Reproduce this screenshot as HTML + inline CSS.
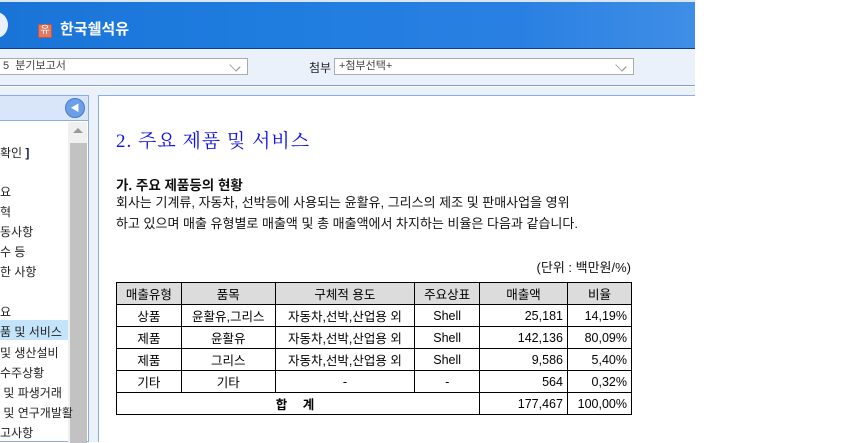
<!DOCTYPE html>
<html><head><meta charset="utf-8"><style>
*{margin:0;padding:0;box-sizing:border-box}
body{width:841px;height:442px;background:#fff;position:relative;overflow:hidden;font-family:"Liberation Sans","Noto Sans CJK KR","NanumGothic",sans-serif;}
.abs{position:absolute}
#hdr{left:0;top:2px;width:695px;height:47px;background:linear-gradient(90deg,#1a74d8 0%,#1f7de0 40%,#2a80e2 75%,#3f8ee6 100%);border-bottom:1px solid #0d3f8a}
#bar{left:0;top:49px;width:695px;height:37px;background:#ebf1fb;border-bottom:1px solid #7f9fd0}
.sel{background:#fff;border:1px solid #aaa;height:17px;font-size:11px;color:#444;line-height:15px;padding-left:4px}
.chev{position:absolute;right:8px;top:3px;width:8px;height:8px;border-right:1px solid #999;border-bottom:1px solid #999;transform:rotate(45deg) scale(1.2,0.8)}
.nav{font-size:12px;color:#222;left:0;white-space:nowrap}
table{border-collapse:collapse;font-size:12.5px;color:#000}
td{border:1px solid #000;height:22px;text-align:center;padding:0 4px}
td.r{text-align:right}
th{border:1px solid #000;height:22px;background:#dcdcdc;font-weight:normal}
</style></head><body>
<div class="abs" style="left:0;top:0;width:695px;height:2px;background:#dbe6f5"></div>
<div id="hdr" class="abs">
 <div class="abs" style="left:-16px;top:10px;width:24px;height:26px;border-radius:50%;background:#e8f1fc"></div>
 <div class="abs" style="left:38px;top:22px;width:14px;height:14px;background:#e07a63;border:1px solid #b55;color:#fff;font-size:10px;line-height:12px;text-align:center">유</div>
 <div class="abs" style="left:60px;top:16px;color:#fff;font-size:15px;font-weight:bold">한국쉘석유</div>
</div>
<div id="bar" class="abs">
 <div class="abs sel" style="left:-2px;top:9px;width:250px">5 &nbsp;분기보고서<span class="chev"></span></div>
 <div class="abs" style="left:309px;top:10px;font-size:12px;color:#222">첨부</div>
 <div class="abs sel" style="left:334px;top:9px;width:300px">+첨부선택+<span class="chev"></span></div>
</div>
<div class="abs" style="left:0;top:87px;width:695px;height:355px;background:#ebf1fb"></div>
<div class="abs" style="left:-2px;top:95px;width:91px;height:347px;background:#fff;border:1px solid #8aaee0">
 <div class="abs" style="left:0;top:0;width:89px;height:25px;background:#d9e6f9;border-bottom:1px solid #8aaee0"></div>
 <div class="abs" style="left:66px;top:2px;width:20px;height:20px;border-radius:50%;background:#6d9ee8;border:1px solid #4a79c4;color:#fff;font-size:9px;line-height:18px;text-align:center">◀</div>
 <div class="abs" style="left:69px;top:26px;width:19px;height:321px;background:#f0f0f0">
  <div class="abs" style="left:5px;top:6px;width:0;height:0;border-left:5px solid transparent;border-right:5px solid transparent;border-bottom:5px solid #999"></div>
  <div class="abs" style="left:2px;top:21px;width:17px;height:300px;background:#c2c2c2"></div>
 </div>
</div>
<div class="abs" style="left:0;top:320px;width:68px;height:20px;background:#c3e4fb"></div>
<div class="abs nav" style="top:144px">확인 <b style="color:#124">]</b></div>
<div class="abs nav" style="top:183px">요</div>
<div class="abs nav" style="top:203px">혁</div>
<div class="abs nav" style="top:223px">동사항</div>
<div class="abs nav" style="top:243px">수 등</div>
<div class="abs nav" style="top:263px">한 사항</div>
<div class="abs nav" style="top:303px">요</div>
<div class="abs nav" style="top:323px">품 및 서비스</div>
<div class="abs nav" style="top:344px">및 생산설비</div>
<div class="abs nav" style="top:364px">수주상황</div>
<div class="abs nav" style="top:384px">&nbsp;및 파생거래</div>
<div class="abs nav" style="top:404px">&nbsp;및 연구개발활</div>
<div class="abs nav" style="top:424px">고사항</div>
<div class="abs" style="left:98px;top:95px;width:597px;height:347px;background:#fff;border-left:1px solid #8aaee0;border-top:1px solid #8aaee0"></div>
<div class="abs" style="left:116px;top:126px;font-size:19px;color:#1010e0;letter-spacing:1px;font-family:'Liberation Serif','Noto Serif CJK SC',serif">2. 주요 제품 및 서비스</div>
<div class="abs" style="left:116px;top:174px;font-size:13.5px;font-weight:bold;color:#111">가. 주요 제품등의 현황</div>
<div class="abs" style="left:116px;top:192px;font-size:13px;color:#111;line-height:21px;white-space:nowrap">회사는 기계류, 자동차, 선박등에 사용되는 윤활유, 그리스의 제조 및 판매사업을 영위<br>하고 있으며 매출 유형별로 매출액 및 총 매출액에서 차지하는 비율은 다음과 같습니다.</div>
<div class="abs" style="left:431px;width:200px;text-align:right;top:257px;font-size:13px;color:#111">(단위 : 백만원/%)</div>
<table class="abs" style="left:116px;top:282px;width:516px">
<tr><th style="width:65px">매출유형</th><th style="width:94px">품목</th><th style="width:140px">구체적 용도</th><th style="width:65px">주요상표</th><th style="width:88px">매출액</th><th style="width:64px">비율</th></tr>
<tr><td>상품</td><td>윤활유,그리스</td><td>자동차,선박,산업용 외</td><td>Shell</td><td class="r">25,181</td><td class="r">14,19%</td></tr>
<tr><td>제품</td><td>윤활유</td><td>자동차,선박,산업용 외</td><td>Shell</td><td class="r">142,136</td><td class="r">80,09%</td></tr>
<tr><td>제품</td><td>그리스</td><td>자동차,선박,산업용 외</td><td>Shell</td><td class="r">9,586</td><td class="r">5,40%</td></tr>
<tr><td>기타</td><td>기타</td><td>-</td><td>-</td><td class="r">564</td><td class="r">0,32%</td></tr>
<tr><td colspan="4" style="font-weight:bold;letter-spacing:6px">합 계</td><td class="r">177,467</td><td class="r">100,00%</td></tr>
</table>
</body></html>
